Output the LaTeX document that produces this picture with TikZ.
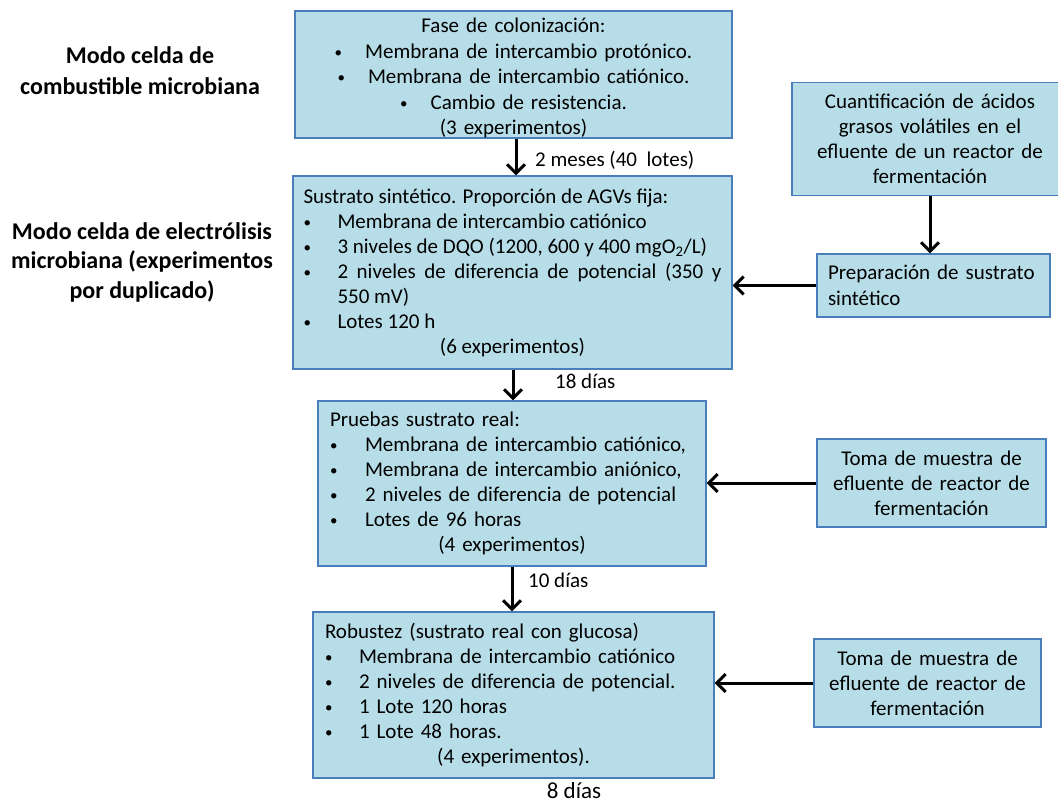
\documentclass[tikz,border=0pt]{standalone}
\usepackage{fontspec}
\setmainfont{Carlito}
\usetikzlibrary{arrows.meta}
\definecolor{boxfill}{HTML}{B7DEE8}
\definecolor{boxborder}{HTML}{4A7EBB}
\newcommand{\bul}{\raisebox{1pt}{\fontsize{15}{15}\selectfont •}}
\newcommand{\bitem}[2]{\par\hangindent=#1\hangafter=1\noindent\makebox[#1][l]{\bul}#2}
\newcommand{\cenline}[1]{\par\noindent\makebox[\linewidth]{#1}}
\tikzset{
  box/.style={draw=boxborder, fill=boxfill, line width=1.1pt, inner sep=0pt,
    font=\fontsize{21}{25}\selectfont},
  lbl/.style={inner sep=0pt, font=\fontsize{21}{25}\selectfont},
  side/.style={inner sep=0pt, align=center, font=\bfseries\fontsize{24}{31}\selectfont},
  flow/.style={line width=3pt, -{Straight Barb[length=9pt,width=18pt,line width=3pt]}}
}
\begin{document}
\begin{tikzpicture}[x=1pt,y=-1pt]
\useasboundingbox (0,0) rectangle (1058,804);
\fill[white] (0,0) rectangle (1058,804);

% side labels
\node[side] (mfc) at (140,71) {Modo celda de\\combustible microbiana};
\node[side, font=\bfseries\fontsize{24}{29.5}\selectfont] (mec) at (142,262) {Modo celda de electrólisis\\microbiana (experimentos\\por duplicado)};

% main column
\node[box, minimum width=437pt, minimum height=127pt] (b1) at (513.5,74.5) {};
\node[inner sep=0pt, text width=427pt, align=center, font=\fontsize{21}{25.6}\selectfont] (b1t) at (513.5,78)
{Fase de colonización:\\
\bul\hspace{23pt}Membrana de intercambio protónico.\\
\bul\hspace{23pt}Membrana de intercambio catiónico.\\
\bul\hspace{23pt}Cambio de resistencia.\\
(3 experimentos)};

\node[box, minimum width=439pt, minimum height=193pt, text width=418pt, align=justify] (b2) at (512.5,272.5)
{\noindent Sustrato sintético. Proporción de AGVs fija:
\bitem{34pt}{Membrana de intercambio catiónico}
\bitem{34pt}{3 niveles de DQO (1200, 600 y 400 mgO\textsubscript{2}/L)}
\bitem{34pt}{2 niveles de diferencia de potencial (350 y\linebreak 550 mV)}
\bitem{34pt}{Lotes 120 h}
\cenline{(6 experimentos)}};

\node[box, minimum width=388pt, minimum height=165pt, text width=364pt, align=left] (b3) at (512,483.5)
{\noindent Pruebas sustrato real:
\bitem{35pt}{Membrana de intercambio catiónico,}
\bitem{35pt}{Membrana de intercambio aniónico,}
\bitem{35pt}{2 niveles de diferencia de potencial}
\bitem{35pt}{Lotes de 96 horas}
\cenline{(4 experimentos)}};

\node[box, minimum width=401pt, minimum height=166pt, text width=377pt, align=left] (b4) at (513.5,695)
{\noindent Robustez (sustrato real con glucosa)
\bitem{34pt}{Membrana de intercambio catiónico}
\bitem{34pt}{2 niveles de diferencia de potencial.}
\bitem{34pt}{1 Lote 120 horas}
\bitem{34pt}{1 Lote 48 horas.}
\cenline{(4 experimentos).}};

% right column
\node[box, minimum width=276pt, minimum height=113pt, text width=266pt, align=center] (ba) at (930,139)
{Cuantificación de ácidos\\grasos volátiles en el\\efluente de un reactor de\\fermentación};
\node[box, minimum width=233pt, minimum height=63pt, text width=211pt, align=left,
      font=\fontsize{21}{26.5}\selectfont] (bb) at (933.5,285.5)
{Preparación de sustrato\\sintético};
\node[box, minimum width=229pt, minimum height=88pt, text width=219pt, align=center] (bc) at (931.5,483)
{Toma de muestra de\\efluente de reactor de\\fermentación};
\node[box, minimum width=227pt, minimum height=88pt, text width=217pt, align=center] (bd) at (927.5,683)
{Toma de muestra de\\efluente de reactor de\\fermentación};

% arrows
\coordinate (x1) at (516,0);
\coordinate (x2) at (513,0);
\coordinate (x3) at (512,0);
\coordinate (xa) at (930,0);
\draw[flow] (b1.south -| x1) -- (b2.north -| x1);
\draw[flow] (b2.south -| x2) -- (b3.north -| x2);
\draw[flow] (b3.south -| x3) -- (b4.north -| x3);
\draw[flow] (ba.south -| xa) -- (bb.north -| xa);
\draw[flow] (bb.west) -- (bb.west -| b2.east);
\draw[flow] (bc.west) -- (bc.west -| b3.east);
\draw[flow] (bd.west) -- (bd.west -| b4.east);

% arrow labels
\node[lbl, anchor=west] (l1) at (535,160) {2 meses (40\ \ lotes)};
\node[lbl, anchor=west] (l2) at (555,381) {18 días};
\node[lbl, anchor=west] (l3) at (528,580) {10 días};
\node[lbl, font=\fontsize{23}{25}\selectfont] (l4) at (574,791) {8 días};
\end{tikzpicture}
\end{document}
